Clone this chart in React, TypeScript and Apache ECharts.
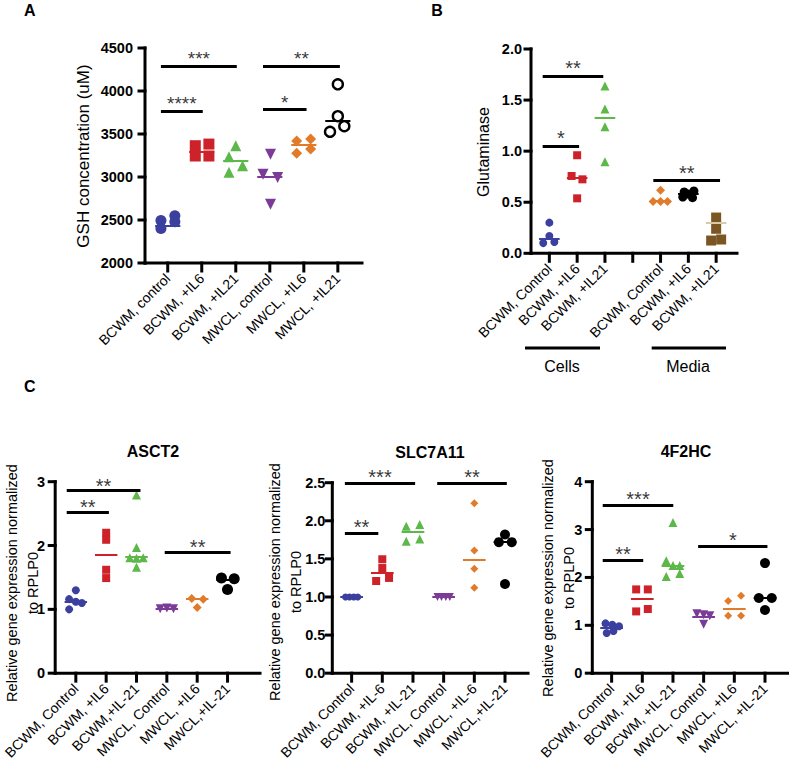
import React, { useEffect, useRef } from "react";
import * as echarts from "echarts";

const FONT = "'Liberation Sans', Arial, Helvetica, sans-serif";
const BLUE = "#3b3f9e";
const RED = "#cd2229";
const GREEN = "#5cb848";
const PURPLE = "#7b3c97";
const ORANGE = "#e27b29";
const BLACK = "#000000";
const BROWN = "#7b5522";

// ---------------- Panel A : GSH concentration ----------------
const aCategories = ["BCWM, control", "BCWM, +IL6", "BCWM, +IL21", "MWCL, control", "MWCL, +IL6", "MWCL, +IL21"];
const aValues = [
  [2495, 2549, 2402, 2479],
  [3364, 3383, 3244, 3244],
  [3364, 3236, 3132, 3055],
  [3264, 3032, 2993, 2684],
  [3418, 3441, 3275, 3325],
  [4078, 3707, 3591, 3526],
];
const aJitter = [
  [-0.2, 0.21, -0.2, 0.21],
  [-0.19, 0.21, -0.19, 0.21],
  [0, -0.2, 0.2, -0.2],
  [0.02, -0.2, 0.23, 0.02],
  [-0.21, 0.2, -0.21, 0.2],
  [0, 0, 0.19, -0.23],
];
const aCenters = [2429, 3298, 3186, 3004, 3372, 3653];
const aSigFrom = [-0.2, -0.2, 2.8, 2.8];
const aSigTo = [1.03, 2.03, 4.08, 5.06];
const aSigY = [3769, 4291, 3785, 4291];
const aSigText = ["****", "***", "*", "**"];

// ---------------- Panel B : Glutaminase ----------------
const bCategories = ["BCWM, Control", "BCWM, +IL6", "BCWM, +IL21", "", "BCWM, Control", "BCWM, +IL6", "BCWM, +IL21"];
const bPositions = [0, 1, 2, 4, 5, 6];
const bValues = [
  [0.3, 0.17, 0.1, 0.11],
  [0.96, 0.757, 0.724, 0.538],
  [1.638, 1.413, 1.24, 0.897],
  [0.617, 0.506, 0.506, 0.506],
  [0.6, 0.61, 0.55, 0.545, 0.58],
  [0.35, 0.24, 0.125, 0.135],
];
const bJitter = [
  [0, 0, -0.22, 0.18],
  [0, -0.2, 0.19, 0],
  [0, 0, 0, 0],
  [0, -0.27, 0, 0.25],
  [-0.15, 0.2, -0.2, 0.15, 0],
  [0, 0, -0.18, 0.18],
];
const bCenters = [0.14, 0.74, 1.328, 0.51, 0.58, 0.3];
const bSigFrom = [-0.24, -0.24, 3.74];
const bSigTo = [1.07, 1.94, 6.14];
const bSigY = [1.05, 1.736, 0.711];
const bSigText = ["*", "**", "**"];

// ---------------- Panel C1 : ASCT2 ----------------
const c1Categories = ["BCWM, Control", "BCWM, +IL6", "BCWM,+IL-21", "MWCL, Control", "MWCL, +IL6", "MWCL,+IL-21"];
const c1Values = [
  [1.3, 1.16, 1.12, 1.1, 1.0],
  [2.2, 2.09, 1.62, 1.49],
  [2.79, 1.97, 1.81, 1.8, 1.81, 1.66],
  [1.01, 1.02, 1.01],
  [1.17, 1.16, 1.03],
  [1.49, 1.48, 1.31],
];
const c1Jitter = [
  [0, -0.22, 0, 0.2, -0.22],
  [0, 0, 0, 0],
  [0, 0, -0.22, 0, 0.22, 0],
  [-0.22, 0, 0.22],
  [-0.18, 0.2, 0],
  [-0.2, 0.22, 0],
];
const c1Centers = [1.12, 1.85, 1.83, 1.01, 1.16, 1.46];
const c1SigFrom = [-0.3, -0.3, 2.93];
const c1SigTo = [1.09, 2.13, 5.1];
const c1SigY = [2.52, 2.86, 1.9];
const c1SigText = ["**", "**", "**"];

// ---------------- Panel C2 : SLC7A11 ----------------
const c2Categories = ["BCWM, Control", "BCWM, +IL-6", "BCWM, +IL-21", "MWCL, Control", "MWCL, +IL-6", "MWCL,+IL-21"];
const c2Values = [
  [1.0, 1.0, 1.0, 1.0],
  [1.495, 1.38, 1.21, 1.25],
  [1.93, 1.95, 1.73, 1.76],
  [1.0, 1.0, 1.0, 1.0],
  [2.23, 1.61, 1.37, 1.12],
  [1.82, 1.72, 1.72, 1.17],
];
const c2Jitter = [
  [-0.2, -0.07, 0.07, 0.2],
  [0, 0, -0.2, 0.22],
  [-0.22, 0.22, -0.22, 0.22],
  [-0.2, -0.07, 0.07, 0.2],
  [0, 0, 0, 0],
  [0, -0.2, 0.22, 0],
];
const c2Centers = [1.0, 1.32, 1.86, 1.0, 1.49, 1.72];
const c2SigFrom = [-0.22, -0.22, 2.79];
const c2SigTo = [0.87, 2.07, 5.06];
const c2SigY = [1.84, 2.49, 2.49];
const c2SigText = ["**", "***", "**"];

// ---------------- Panel C3 : 4F2HC ----------------
const c3Categories = ["BCWM, Control", "BCWM, +IL6", "BCWM, +IL-21", "MWCL, Control", "MWCL, +IL6", "MWCL, +IL-21"];
const c3Values = [
  [1.04, 1.01, 0.98, 0.84, 0.88],
  [1.75, 1.75, 1.29, 1.34],
  [3.15, 2.35, 2.25, 2.25, 2.02, 2.08],
  [1.24, 1.2, 1.02, 1.22],
  [1.51, 1.62, 1.2, 1.2],
  [2.3, 1.57, 1.57, 1.32],
];
const c3Jitter = [
  [-0.2, 0.02, 0.24, -0.16, 0.06],
  [-0.2, 0.18, -0.2, 0.18],
  [0, -0.22, 0, 0.22, -0.22, 0.22],
  [-0.22, 0.2, 0, 0],
  [-0.2, 0.22, -0.2, 0.22],
  [0, -0.2, 0.22, 0],
];
const c3Centers = [0.95, 1.55, 2.25, 1.18, 1.35, 1.57];
const c3SigFrom = [-0.29, -0.29, 2.82];
const c3SigTo = [1.03, 2.01, 5.08];
const c3SigY = [2.36, 3.51, 2.65];
const c3SigText = ["**", "***", "*"];

const SIX = [0, 1, 2, 3, 4, 5];

type Spec = {
  rect: [number, number, number, number];
  xMin: number;
  xMax: number;
  yMin: number;
  yMax: number;
  yStep: number;
  yDec: number;
  categories: string[];
  tickPositions: number[];
  positions: number[];
  values: number[][];
  jitter: number[][];
  centers: number[];
  symbols: string[];
  sizes: number[];
  colors: string[];
  rotates: number[];
  open: boolean[];
  centerColors: string[];
  sigFrom: number[];
  sigTo: number[];
  sigY: number[];
  sigText: string[];
  yMargin: number;
  starOffset: number;
  starSize: number;
};

const AXIS_W = 3;

function yTickValues(s: Spec) {
  const t: number[] = [];
  for (let v = s.yMin; v <= s.yMax + 1e-9; v += s.yStep) t.push(v);
  return t;
}

function buildPanel(s: Spec, gi: number, out: any) {
  const [left, top, width, height] = s.rect;
  out.grid.push({ left, top, width, height, show: false });
  out.xAxis.push({
    type: "value",
    gridIndex: gi,
    min: s.xMin,
    max: s.xMax,
    splitLine: { show: false },
    axisLine: { show: false, onZero: false },
    axisTick: { show: false },
    axisLabel: {
      show: true,
      customValues: s.tickPositions,
      rotate: 45,
      margin: 13,
      fontSize: 14,
      color: "#000",
      fontFamily: FONT,
      formatter: (v: number) => s.categories[Math.round(v)] ?? "",
    },
  });
  out.yAxis.push({
    type: "value",
    gridIndex: gi,
    min: s.yMin,
    max: s.yMax,
    interval: s.yStep,
    splitLine: { show: false },
    axisLine: { show: false, onZero: false },
    axisTick: { show: false },
    axisLabel: {
      margin: s.yMargin,
      fontSize: 14.5,
      fontWeight: "bold",
      color: "#000",
      fontFamily: FONT,
      formatter: (v: number) => v.toFixed(s.yDec),
    },
  });
  s.values.forEach((vals, g) => {
    const pos = s.positions[g];
    out.series.push({
      type: "scatter",
      xAxisIndex: gi,
      yAxisIndex: gi,
      symbol: s.symbols[g],
      symbolSize: s.sizes[g],
      symbolRotate: s.rotates[g],
      itemStyle: s.open[g]
        ? { color: "#ffffff", borderColor: s.colors[g], borderWidth: 2.4, opacity: 1 }
        : { color: s.colors[g], opacity: 1 },
      z: 3,
      silent: true,
      data: vals.map((v, k) => [pos + s.jitter[g][k], v]),
    });
  });
  out.series.push({
    type: "lines",
    coordinateSystem: "cartesian2d",
    xAxisIndex: gi,
    yAxisIndex: gi,
    z: 4,
    silent: true,
    lineStyle: { width: 2, opacity: 1 },
    data: s.centers.map((c, g) => ({
      coords: [
        [s.positions[g] - 0.37, c],
        [s.positions[g] + 0.37, c],
      ],
      lineStyle: { color: s.centerColors[g], width: 2, opacity: 1 },
    })),
  });
  out.series.push({
    type: "lines",
    coordinateSystem: "cartesian2d",
    xAxisIndex: gi,
    yAxisIndex: gi,
    z: 5,
    silent: true,
    lineStyle: { color: "#000", width: 3.2, opacity: 1 },
    data: s.sigY.map((y, k) => ({
      coords: [
        [s.sigFrom[k], y],
        [s.sigTo[k], y],
      ],
    })),
  });
  out.series.push({
    type: "scatter",
    xAxisIndex: gi,
    yAxisIndex: gi,
    symbolSize: 0,
    z: 6,
    silent: true,
    itemStyle: { color: "transparent" },
    label: {
      show: true,
      position: "inside",
      offset: [0, s.starOffset],
      formatter: "{b}",
      fontSize: s.starSize,
      color: "#000",
      fontFamily: FONT,
    },
    data: s.sigY.map((y, k) => ({ name: s.sigText[k], value: [(s.sigFrom[k] + s.sigTo[k]) / 2, y] })),
  });
}

const stdSymbols = ["circle", "rect", "triangle", "triangle", "diamond", "circle"];
const stdColors = [BLUE, RED, GREEN, PURPLE, ORANGE, BLACK];
const stdRot = [0, 0, 0, 180, 0, 0];
const noOpen = [false, false, false, false, false, false];

const specs: Spec[] = [
  {
    rect: [145, 48, 217, 215],
    xMin: -0.668,
    xMax: 5.71,
    yMin: 2000,
    yMax: 4500,
    yStep: 500,
    yDec: 0,
    categories: aCategories,
    tickPositions: SIX,
    positions: SIX,
    values: aValues,
    jitter: aJitter,
    centers: aCenters,
    symbols: ["circle", "rect", "triangle", "triangle", "diamond", "circle"],
    sizes: [11, 11, 11, 11, 11, 10],
    colors: stdColors,
    rotates: stdRot,
    open: [false, false, false, false, false, true],
    centerColors: stdColors,
    sigFrom: aSigFrom,
    sigTo: aSigTo,
    sigY: aSigY,
    sigText: aSigText,
    yMargin: 12,
    starOffset: -7,
    starSize: 19,
  },
  {
    rect: [531, 49, 206, 204.3],
    xMin: -0.66,
    xMax: 6.75,
    yMin: 0,
    yMax: 2,
    yStep: 0.5,
    yDec: 1,
    categories: bCategories,
    tickPositions: [0, 1, 2, 3, 4, 5, 6],
    positions: bPositions,
    values: bValues,
    jitter: bJitter,
    centers: bCenters,
    symbols: ["circle", "rect", "triangle", "diamond", "circle", "rect"],
    sizes: [8, 8, 9, 9, 9, 10],
    colors: [BLUE, RED, GREEN, ORANGE, BLACK, BROWN],
    rotates: [0, 0, 0, 0, 0, 0],
    open: noOpen,
    centerColors: [BLUE, RED, GREEN, ORANGE, BLACK, "#d9c9a6"],
    sigFrom: bSigFrom,
    sigTo: bSigTo,
    sigY: bSigY,
    sigText: bSigText,
    yMargin: 9,
    starOffset: -8,
    starSize: 20,
  },
  {
    rect: [54.3, 481.7, 205.7, 194],
    xMin: -0.68,
    xMax: 6.07,
    yMin: 0,
    yMax: 3,
    yStep: 1,
    yDec: 0,
    categories: c1Categories,
    tickPositions: SIX,
    positions: SIX,
    values: c1Values,
    jitter: c1Jitter,
    centers: c1Centers,
    symbols: stdSymbols,
    sizes: [8, 8, 9, 9, 9, 11],
    colors: stdColors,
    rotates: stdRot,
    open: noOpen,
    centerColors: stdColors,
    sigFrom: c1SigFrom,
    sigTo: c1SigTo,
    sigY: c1SigY,
    sigText: c1SigText,
    yMargin: 10,
    starOffset: -5,
    starSize: 20,
  },
  {
    rect: [332.3, 482.7, 195.7, 194],
    xMin: -0.63,
    xMax: 5.75,
    yMin: 0,
    yMax: 2.5,
    yStep: 0.5,
    yDec: 1,
    categories: c2Categories,
    tickPositions: SIX,
    positions: SIX,
    values: c2Values,
    jitter: c2Jitter,
    centers: c2Centers,
    symbols: stdSymbols,
    sizes: [7, 8, 9, 8, 8, 10],
    colors: stdColors,
    rotates: stdRot,
    open: noOpen,
    centerColors: stdColors,
    sigFrom: c2SigFrom,
    sigTo: c2SigTo,
    sigY: c2SigY,
    sigText: c2SigText,
    yMargin: 7,
    starOffset: -6,
    starSize: 20,
  },
  {
    rect: [592.3, 481.7, 195.7, 194],
    xMin: -0.63,
    xMax: 5.75,
    yMin: 0,
    yMax: 4,
    yStep: 1,
    yDec: 0,
    categories: c3Categories,
    tickPositions: SIX,
    positions: SIX,
    values: c3Values,
    jitter: c3Jitter,
    centers: c3Centers,
    symbols: stdSymbols,
    sizes: [8, 8, 9, 9, 8, 10],
    colors: stdColors,
    rotates: stdRot,
    open: noOpen,
    centerColors: stdColors,
    sigFrom: c3SigFrom,
    sigTo: c3SigTo,
    sigY: c3SigY,
    sigText: c3SigText,
    yMargin: 10,
    starOffset: -6,
    starSize: 20,
  },
];

export default function App() {
  const ref = useRef<HTMLDivElement>(null);
  useEffect(() => {
    if (!ref.current) return;
    const chart = echarts.init(ref.current, null, { renderer: "svg" });
    const out: any = { grid: [], xAxis: [], yAxis: [], series: [] };
    specs.forEach((s, gi) => buildPanel(s, gi, out));

    const txt = (x: number, y: number, text: string, size: number, bold: boolean, rot = 0, lineHeight?: number) => ({
      type: "text",
      x,
      y,
      rotation: rot,
      silent: true,
      style: {
        text,
        fill: "#000",
        fontSize: size,
        fontWeight: bold ? "bold" : "normal",
        fontFamily: FONT,
        align: "center",
        verticalAlign: "middle",
        lineHeight,
      },
    });

    const graphic: any[] = [
      txt(29.7, 10, "A", 16, true),
      txt(437, 10, "B", 16, true),
      txt(29.7, 386, "C", 16, true),
      txt(83, 156, "GSH concentration (uM)", 17, false, Math.PI / 2),
      txt(483, 152, "Glutaminase", 16, false, Math.PI / 2),
      txt(22, 583, "Relative gene expression normalized\nto RPLP0", 14.5, false, Math.PI / 2, 21),
      txt(285, 582, "Relative gene expression normalized\nto RPLP0", 14.5, false, Math.PI / 2, 21),
      txt(558, 578, "Relative gene expression normalized\nto RPLP0", 14.5, false, Math.PI / 2, 21),
      txt(153, 451, "ASCT2", 16, true),
      txt(430, 452, "SLC7A11", 16, true),
      txt(686, 451, "4F2HC", 16, true),
      { type: "rect", silent: true, shape: { x: 525, y: 346.5, width: 75, height: 3 }, style: { fill: "#000" } },
      { type: "rect", silent: true, shape: { x: 651.7, y: 346.5, width: 74.3, height: 3 }, style: { fill: "#000" } },
      txt(562, 366, "Cells", 16, false),
      txt(688, 366, "Media", 16, false),
    ];

    chart.setOption({
      animation: false,
      backgroundColor: "#ffffff",
      textStyle: { fontFamily: FONT },
      grid: out.grid,
      xAxis: out.xAxis,
      yAxis: out.yAxis,
      series: out.series,
      graphic,
    });

    // Axis lines and ticks as filled bars, placed through the chart's own scales.
    const axisEls: any[] = [];
    const h = AXIS_W / 2;
    const bar = (x1: number, y1: number, x2: number, y2: number) => ({
      type: "rect",
      z: 50,
      silent: true,
      shape: { x: Math.min(x1, x2) - h, y: Math.min(y1, y2) - h, width: Math.abs(x2 - x1) + AXIS_W, height: Math.abs(y2 - y1) + AXIS_W },
      style: { fill: "#000000" },
    });
    try {
      specs.forEach((s, gi) => {
        const P = (x: number, y: number) =>
          chart.convertToPixel({ xAxisIndex: gi, yAxisIndex: gi }, [x, y]) as number[];
        const o = P(s.xMin, s.yMin);
        const xe = P(s.xMax, s.yMin);
        const ye = P(s.xMin, s.yMax);
        axisEls.push(bar(o[0], o[1], xe[0], xe[1]));
        axisEls.push(bar(o[0], o[1], ye[0], ye[1]));
        s.tickPositions.forEach((t) => {
          const c = P(t, s.yMin);
          axisEls.push(bar(c[0], c[1], c[0], c[1] + 8));
        });
        yTickValues(s).forEach((v) => {
          const c = P(s.xMin, v);
          axisEls.push(bar(c[0] - 6, c[1], c[0], c[1]));
        });
      });
    } catch (e) {
      axisEls.push({ type: "text", x: 300, y: 380, style: { text: "ERR " + String(e), fill: "red", fontSize: 12 } });
    }
    chart.setOption({ graphic: [...graphic, ...axisEls] });

    return () => chart.dispose();
  }, []);
  return (
    <div
      ref={ref}
      style={{ position: "fixed", left: 0, top: 0, width: 789, height: 762, background: "#fff" }}
    />
  );
}
